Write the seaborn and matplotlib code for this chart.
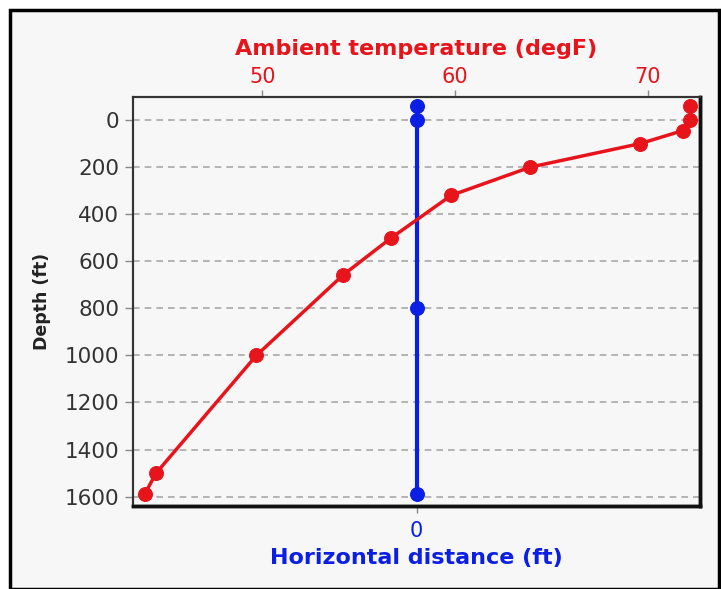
import matplotlib
matplotlib.use("Agg")
import matplotlib.pyplot as plt
import seaborn as sns
import pandas as pd
from matplotlib.patches import Rectangle

# ---- data ----
temp_degF = [72.2, 72.2, 71.8, 69.6, 63.9, 59.8, 56.7, 54.2, 49.7, 44.5, 43.9]
temp_depth_ft = [-60, 0, 45, 100, 200, 320, 500, 658, 1000, 1500, 1590]
horiz_dist_ft = [0, 0, 0, 0]
horiz_depth_ft = [-60, 0, 800, 1590]
depth_ticks = [0, 200, 400, 600, 800, 1000, 1200, 1400, 1600]
temp_ticks = [50, 60, 70]
dist_ticks = [0]

RED = "#e8141b"
BLUE = "#0a1ee6"
BG = "#f7f7f7"

sns.set_theme(style="white")
plt.rcParams["font.family"] = ["DejaVu Sans"]

fig = plt.figure(figsize=(7.21, 5.89), dpi=100)
fig.patch.set_facecolor("white")
fig.patches.append(Rectangle((10 / 721, 0.0), 709 / 721, 1 - 10 / 589,
                             transform=fig.transFigure, facecolor=BG,
                             edgecolor="black", linewidth=2.5, zorder=-10))

ax = fig.add_axes([133 / 721, 1 - 506 / 589, (700 - 133) / 721, (506 - 97) / 589])
ax.set_facecolor(BG)

df_h = pd.DataFrame({"x": horiz_dist_ft, "depth": horiz_depth_ft})
sns.lineplot(data=df_h, x="x", y="depth", sort=False, estimator=None, ax=ax,
             color=BLUE, linewidth=3, marker="o", markersize=10,
             markeredgecolor=BLUE, zorder=3)

ax.set_xlim(-1, 1)
ax.set_ylim(1640, -98)
ax.set_yticks(depth_ticks)
ax.set_xticks(dist_ticks)
ax.yaxis.grid(True, linestyle=(0, (4, 3)), color="#a8a8a8", linewidth=1.2)
ax.xaxis.grid(False)
ax.set_ylabel("Depth (ft)", fontsize=12.5, fontweight="bold", color="#222222", labelpad=10)
ax.set_xlabel("Horizontal distance (ft)", fontsize=16, fontweight="bold", color=BLUE, labelpad=5)
ax.tick_params(axis="y", left=True, length=6, width=1, color="#888888",
               labelsize=15.5, labelcolor="#333333", pad=4)
ax.tick_params(axis="x", bottom=True, length=5, width=1, color="#888888",
               labelsize=15, labelcolor=BLUE, pad=6)

ax2 = ax.twiny()
df_t = pd.DataFrame({"temp": temp_degF, "depth": temp_depth_ft})
sns.lineplot(data=df_t, x="temp", y="depth", sort=False, estimator=None, ax=ax2,
             color=RED, linewidth=2.5, marker="o", markersize=10,
             markeredgecolor=RED, zorder=3)
ax2.set_xlim(43.3, 72.7)
ax2.set_ylim(1640, -98)
ax2.set_xticks(temp_ticks)
ax2.set_ylabel("")
ax2.set_xlabel("Ambient temperature (degF)", fontsize=16, fontweight="bold", color=RED, labelpad=9)
ax2.tick_params(axis="x", top=True, length=5, width=1, color="#888888",
                labelsize=15, labelcolor=RED, pad=2)

for a in (ax, ax2):
    for side in ("top", "left"):
        a.spines[side].set_color("#333333")
        a.spines[side].set_linewidth(1.5)
    for side in ("bottom", "right"):
        a.spines[side].set_color("#111111")
        a.spines[side].set_linewidth(2.5)

fig.savefig("out.png", dpi=100, facecolor=fig.get_facecolor())
